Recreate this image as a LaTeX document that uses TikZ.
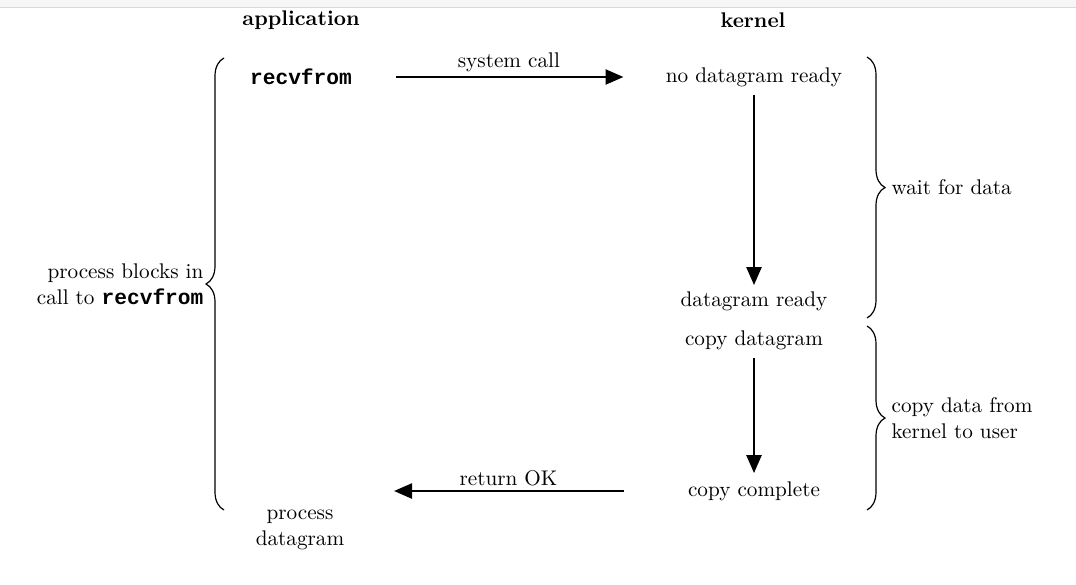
\documentclass[tikz,border=0pt]{standalone}
\usepackage{fontspec}
\setmonofont{Liberation Mono}
\usetikzlibrary{arrows.meta,decorations.pathreplacing,positioning}

\tikzset{
	lbl/.style={inner sep=0pt, font=\fontsize{10.6}{13}\selectfont, align=center},
	hdr/.style={lbl, font=\fontsize{10.6}{13}\selectfont\bfseries},
	flow/.style={line width=1.2pt, -{Triangle[length=9pt,width=7.5pt]}},
	brc/.style={line width=0.6pt, decorate, decoration={brace, amplitude=9pt}},
}

\begin{document}
\begin{tikzpicture}[x=0.5pt,y=-0.5pt]
		\useasboundingbox (0,0) rectangle (1076,584);
		\fill[gray!7] (0,0) rectangle (1076,7);
		\draw[gray!30] (0,7) -- (1076,7);
		% column heads
		\node[hdr] (app) at (301,20) {application};
		\node[hdr] (kern) at (753,20) {kernel};
		% application side
		\node[lbl] (recv) at (301,77) {\texttt{\textbf{recvfrom}}};
		\node[lbl] (procdg) at (300,530) {process\\datagram};
		% kernel side
		\node[lbl] (nodat) at (754,77) {no datagram ready};
		\node[lbl] (dgready) at (754,301) {datagram ready};
		\node[lbl] (copydg) at (754,340) {copy datagram};
		\node[lbl] (copydone) at (754,491) {copy complete};
		\coordinate (retend) at (394,491);
		% arrows
		\draw[flow, shorten <=22pt, shorten >=21pt] (recv) -- node[lbl, above=2pt] {system call} (nodat);
		\draw[flow, shorten <=4pt, shorten >=3pt] (nodat) -- (dgready);
		\draw[flow, shorten <=4pt, shorten >=4pt] (copydg) -- (copydone);
		\draw[flow, shorten <=32pt] (copydone) -- node[lbl, above=2pt, pos=0.61] {return OK} (retend);
		% braces
		\coordinate (lbot) at (224,510);
		\coordinate (ltop) at (224,58);
		\coordinate (wtop) at (867,57);
		\coordinate (wbot) at (867,318);
		\coordinate (ctop) at (867,326);
		\coordinate (cbot) at (867,510);
		\draw[brc] (lbot) -- node[lbl, left=10pt, align=right] {process blocks in\\call to \texttt{\textbf{recvfrom}}} (ltop);
		\draw[brc] (wtop) -- node[lbl, right=12pt] {wait for data} (wbot);
		\draw[brc] (ctop) -- node[lbl, right=12pt, align=left] {copy data from\\kernel to user} (cbot);
	\end{tikzpicture}
\end{document}
